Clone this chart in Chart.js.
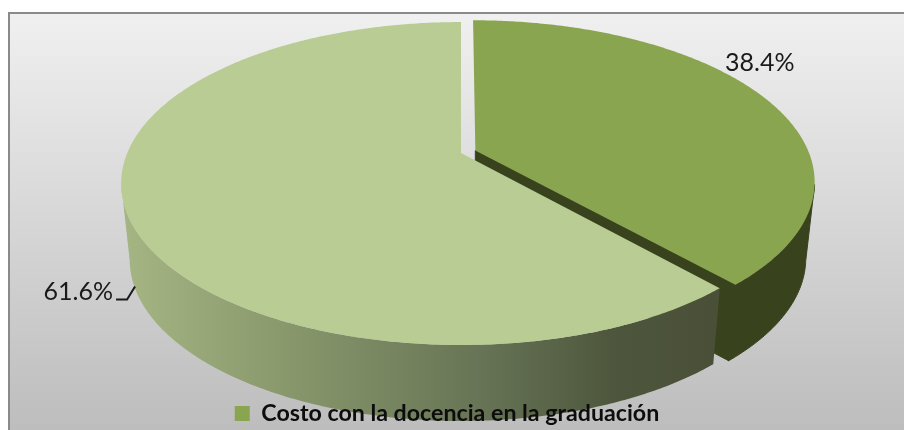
<!DOCTYPE html>
<html>
<head>
<meta charset="utf-8">
<style>html,body{margin:0;padding:0;background:#fff}canvas{display:block}</style>
<script src="https://cdn.jsdelivr.net/npm/chart.js@4"></script>
</head>
<body>
<canvas id="c" width="904" height="430"></canvas>
<script>
const categories = ['Costo con la docencia en la graduación', 'Otros costos'];
const seriesValues = [38.4, 61.6];
const legendCategories = ['Costo con la docencia en la graduación'];
const topColors = ['#8aa54f', '#b8cc94'];
const FONT = 'Lato, "Open Sans", sans-serif';

const view = {cx:461, y0:153, A:155.7, B:333.7, k:0.189, depth:76, shrink:0.975};

function project(u, t, lower){
  const w = 1 - view.k * t;
  let X = view.B * u / w, Y = view.A * t / w;
  if (lower) { X *= view.shrink; Y += view.depth; }
  return [view.cx + X, view.y0 + Y];
}
function arcGeom(arc){
  const p = arc.getProps(['startAngle','endAngle','outerRadius']);
  const mid = (p.startAngle + p.endAngle) / 2;
  const d = (arc.options.offset || 0) / p.outerRadius;
  return {s:p.startAngle, e:p.endAngle, mid, du:d*Math.cos(mid), dt:d*Math.sin(mid)};
}
function edge(g, a, lower){ return project(g.du + Math.cos(a), g.dt + Math.sin(a), lower); }
function centre(g, lower){ return project(g.du, g.dt, lower); }
function samples(s, e){
  const out = [], n = Math.ceil((e - s) / 0.01);
  for (let i = 0; i <= n; i++) out.push(s + (e - s) * i / n);
  return out;
}
function poly(ctx, pts, fill, seal){
  ctx.beginPath();
  pts.forEach((q, i) => i ? ctx.lineTo(q[0], q[1]) : ctx.moveTo(q[0], q[1]));
  ctx.closePath();
  ctx.fillStyle = fill;
  ctx.fill();
  if (seal) { ctx.strokeStyle = fill; ctx.lineWidth = 1; ctx.stroke(); }
}
function sideFill(ctx, i){
  if (i === 0) return '#38431e';
  const gr = ctx.createLinearGradient(122, 0, 711, 0);
  gr.addColorStop(0, '#a5b583');
  gr.addColorStop(0.3, '#86966a');
  gr.addColorStop(0.6, '#687556');
  gr.addColorStop(0.84, '#4d563c');
  gr.addColorStop(1, '#4a5038');
  return gr;
}
function drawSlice(ctx, arc, i){
  const g = arcGeom(arc);
  const angles = samples(g.s, g.e);
  const front = angles.filter(a => Math.sin(a) + g.dt >= view.k);
  if (i === 0) {
    poly(ctx, [centre(g,false), edge(g,g.e,false), edge(g,g.e,true), centre(g,true)], sideFill(ctx,i), true);
  }
  if (front.length) {
    const upper = front.map(a => edge(g,a,false));
    const lower = front.map(a => edge(g,a,true)).reverse();
    poly(ctx, upper.concat(lower), sideFill(ctx,i), i === 0);
  }
  poly(ctx, [centre(g,false)].concat(angles.map(a => edge(g,a,false))), arc.options.backgroundColor);
}
function pct(i){
  const total = seriesValues.reduce((a,b)=>a+b,0);
  return (seriesValues[i] / total * 100).toFixed(1) + '%';
}

const pie3d = {
  id:'pie3d',
  beforeLayout(chart){
    const legend = chart.legend;
    if (legend) legend._layers = () => [{z:5, draw(){ legend.draw(); }}];
  },
  beforeDraw(chart){
    const ctx = chart.ctx;
    ctx.save();
    ctx.fillStyle = '#fff';
    ctx.fillRect(0,0,904,430);
    const gr = ctx.createLinearGradient(0,13,0,430);
    gr.addColorStop(0,'#f0f0f0');
    gr.addColorStop(1,'#bdbdbd');
    ctx.fillStyle = gr;
    ctx.fillRect(9,13,895,417);
    ctx.fillStyle = '#8a8a8a';
    ctx.fillRect(8,12,896,2);
    ctx.fillRect(8,12,2,418);
    ctx.restore();
  },
  beforeDatasetDraw(chart){
    const ctx = chart.ctx, arcs = chart.getDatasetMeta(0).data;
    ctx.save();
    arcs.forEach((arc,i) => drawSlice(ctx, arc, i));
    ctx.restore();
    return false;
  },
  afterDatasetsDraw(chart){
    const ctx = chart.ctx, arcs = chart.getDatasetMeta(0).data;
    ctx.save();
    ctx.font = '25px ' + FONT;
    ctx.fillStyle = '#1a1a1a';
    ctx.textBaseline = 'middle';
    const g0 = arcGeom(arcs[0]);
    const a0 = edge(g0, g0.mid, false);
    ctx.textAlign = 'center';
    ctx.fillText(pct(0), a0[0] - 6, a0[1] - 36);
    const g1 = arcGeom(arcs[1]);
    const a1 = edge(g1, g1.mid, true);
    ctx.textAlign = 'right';
    ctx.fillText(pct(1), a1[0] - 22, a1[1] + 3);
    ctx.strokeStyle = '#1a1a1a';
    ctx.lineWidth = 2;
    ctx.beginPath();
    ctx.moveTo(a1[0], a1[1] - 2);
    ctx.lineTo(a1[0] - 8, a1[1] + 11);
    ctx.lineTo(a1[0] - 19, a1[1] + 11);
    ctx.stroke();
    ctx.restore();
  }
};

new Chart(document.getElementById('c'), {
  type:'pie',
  data:{
    labels:categories,
    datasets:[{data:seriesValues, backgroundColor:topColors, borderWidth:0, offset:[9,0]}]
  },
  options:{
    responsive:false,
    animation:false,
    layout:{padding:{right:10,bottom:-5}},
    plugins:{
      tooltip:{enabled:false},
      legend:{
        position:'bottom',
        labels:{
          filter:item => legendCategories.includes(item.text),
          boxWidth:15, boxHeight:15, padding:3,
          color:'#0d0d0d',
          font:{family:FONT, size:23.2, weight:'bold'}
        }
      }
    }
  },
  plugins:[pie3d]
});
</script>
</body>
</html>
